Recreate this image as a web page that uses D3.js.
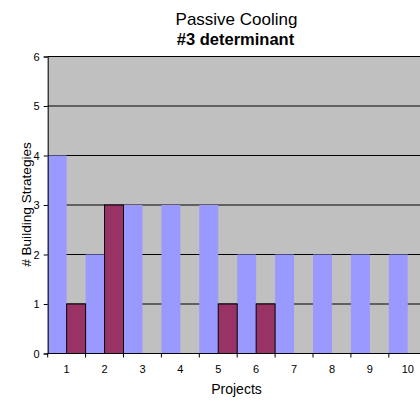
<!DOCTYPE html>
<html>
<head>
<meta charset="utf-8">
<script src="https://cdn.jsdelivr.net/npm/d3@7"></script>
<style>
  html, body { margin: 0; padding: 0; background: #fff; overflow: hidden; }
  svg { display: block; font-family: "Liberation Sans", Arial, sans-serif; }
</style>
</head>
<body>
<svg id="chart" width="420" height="403"></svg>
<script>
// Project numbers on the category axis
const projects = ["1", "2", "3", "4", "5", "6", "7", "8", "9", "10"];
// Two series per project
const seriesNames = ["A", "B"];
const seriesA = [4, 2, 3, 3, 3, 2, 2, 2, 2, 2];
const seriesB = [1, 3, 0, 0, 1, 1, 0, 0, 0, 0];
const yTicks = [0, 1, 2, 3, 4, 5, 6];

const svg = d3.select("#chart");

const plot = { left: 47.7, top: 56.5, bottom: 353.5, step: 37.9 };
plot.right = plot.left + plot.step * projects.length;

const x = d3.scaleBand().domain(projects).range([plot.left, plot.right]).padding(0);
const xs = d3.scaleBand().domain(seriesNames).range([0, x.bandwidth()]).padding(0);
const y = d3.scaleLinear().domain([0, 6]).range([plot.bottom, plot.top]);

const colors = { A: "#9999ff", B: "#993366" };

// plot area background
svg.append("rect")
  .attr("x", plot.left).attr("y", plot.top)
  .attr("width", plot.right - plot.left).attr("height", plot.bottom - plot.top)
  .attr("fill", "#c0c0c0");

// horizontal gridlines
svg.append("g")
  .selectAll("line")
  .data(yTicks.filter(d => d > 0))
  .join("line")
  .attr("x1", plot.left).attr("x2", plot.right)
  .attr("y1", d => y(d)).attr("y2", d => y(d))
  .attr("stroke", "#000").attr("stroke-width", 1);

const rows = projects.map((p, i) => ({ p, A: seriesA[i], B: seriesB[i] }));

// series A bars (no outline)
svg.append("g")
  .selectAll("rect")
  .data(rows)
  .join("rect")
  .attr("x", d => x(d.p) + xs("A"))
  .attr("width", xs.bandwidth())
  .attr("y", d => y(d.A))
  .attr("height", d => y(0) - y(d.A))
  .attr("fill", colors.A);

// series B bars (black outline)
svg.append("g")
  .selectAll("rect")
  .data(rows.filter(d => d.B > 0))
  .join("rect")
  .attr("x", d => x(d.p) + xs("B"))
  .attr("width", xs.bandwidth())
  .attr("y", d => y(d.B))
  .attr("height", d => y(0) - y(d.B))
  .attr("fill", colors.B)
  .attr("stroke", "#000").attr("stroke-width", 1);

// y axis
const yAxis = svg.append("g")
  .attr("transform", `translate(${plot.left},0)`)
  .call(d3.axisLeft(y).tickValues(yTicks).tickFormat(d3.format("d")).tickSize(4).tickPadding(4));
yAxis.select(".domain").attr("stroke", "#000");
yAxis.selectAll(".tick line").attr("stroke", "#000");
yAxis.selectAll("text").attr("font-size", "11px").attr("font-family", "Liberation Sans, Arial, sans-serif").attr("fill", "#000");

// x axis: ticks on category boundaries, labels centred in each category
const xAxis = svg.append("g").attr("transform", `translate(0,${plot.bottom})`);
xAxis.append("line")
  .attr("x1", plot.left).attr("x2", plot.right)
  .attr("stroke", "#000");
xAxis.selectAll("line.tk")
  .data(projects)
  .join("line")
  .attr("class", "tk")
  .attr("x1", d => x(d)).attr("x2", d => x(d))
  .attr("y1", 0).attr("y2", 4)
  .attr("stroke", "#000");
xAxis.selectAll("text")
  .data(projects)
  .join("text")
  .attr("x", d => x(d) + x.bandwidth() / 2)
  .attr("y", 19.5)
  .attr("text-anchor", "middle")
  .attr("font-size", "11px")
  .attr("fill", "#000")
  .text(d => d);

// titles
svg.append("text")
  .attr("x", 236.5).attr("y", 25)
  .attr("text-anchor", "middle")
  .attr("font-size", "17px")
  .attr("fill", "#000")
  .text("Passive Cooling");
svg.append("text")
  .attr("x", 235.5).attr("y", 45)
  .attr("text-anchor", "middle")
  .attr("font-size", "16.5px")
  .attr("font-weight", "bold")
  .attr("fill", "#000")
  .text("#3 determinant");

// axis titles
svg.append("text")
  .attr("x", 236.5).attr("y", 394)
  .attr("text-anchor", "middle")
  .attr("font-size", "14px")
  .attr("fill", "#000")
  .text("Projects");
svg.append("text")
  .attr("transform", `translate(31,204.5) rotate(-90)`)
  .attr("text-anchor", "middle")
  .attr("font-size", "13.6px")
  .attr("fill", "#000")
  .text("# Building Strategies");
</script>
</body>
</html>
